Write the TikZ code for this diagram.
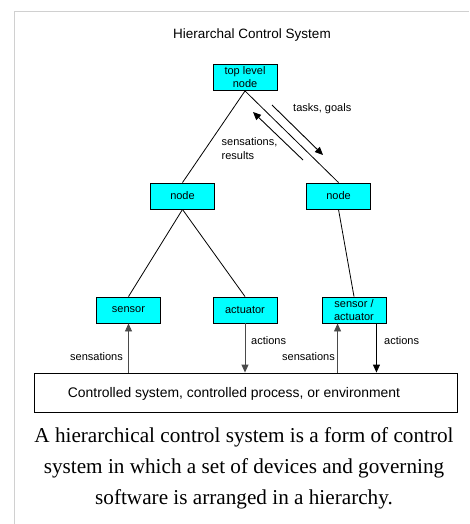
\documentclass[tikz,border=0pt]{standalone}
\usepackage{fontspec}
\setmainfont{Liberation Serif}
\setsansfont{Liberation Sans}
\usetikzlibrary{arrows.meta}
\definecolor{boxcyan}{HTML}{00FFFF}
\definecolor{framegray}{HTML}{D0D0D0}
\definecolor{linegray}{HTML}{4A4A4A}
\begin{document}
\begin{tikzpicture}[x=1pt,y=-1pt,
  unit/.style={draw=black,line width=0.9pt,fill=boxcyan,minimum width=64pt,minimum height=26pt,
    inner sep=0pt,align=center,font=\sffamily\fontsize{11}{13}\selectfont},
  lbl/.style={font=\sffamily\fontsize{11}{14}\selectfont,inner sep=0pt},
  link/.style={draw=black,line width=0.8pt},
  flow/.style={line width=0.9pt,-{Triangle[length=8pt,width=7pt]}},
]
\useasboundingbox (0,0) rectangle (469,524);
% page frame
\draw[framegray,line width=1.4pt] (14.5,524) -- (14.5,11.5) -- (469,11.5);

% title
\node[font=\sffamily\fontsize{13.5}{16}\selectfont,inner sep=0pt] (title) at (252,35) {Hierarchal Control System};

% hierarchy
\node[unit] (top) at (245,77.5) {top level\\node};
\node[unit] (ln) at (182.5,196) {node};
\node[unit] (rn) at (338.5,196) {node};
\node[unit] (sen) at (128.5,310) {sensor};
\node[unit] (act) at (245,310) {actuator};
\node[unit] (sa) at (354,310) {sensor /\\actuator};

\node[draw=black,line width=0.9pt,minimum width=423pt,minimum height=39pt,inner sep=0pt] (env) at (245.5,392.5) {};
\node[font=\sffamily\fontsize{13.9}{16}\selectfont,inner sep=0pt] (envtxt) at (234,393.5) {Controlled system, controlled process, or environment};

\draw[link] (top.south) -- (ln.north);
\draw[link] (top.south) -- (rn.north);
\draw[link] (ln.south) -- (sen.north);
\draw[link] (ln.south) -- (act.north);
\draw[link] (rn.south) -- (sa.north);

% commands down, feedback up
\coordinate (tgA) at (272,105);
\coordinate (tgB) at (323,155);
\coordinate (srA) at (303,160);
\coordinate (srB) at (253,112);
\draw[flow] (tgA) -- (tgB);
\draw[flow] (srA) -- (srB);
\node[lbl,anchor=west] (tg) at (293,109) {tasks, goals};
\node[lbl,anchor=north west,align=left] (sr) at (221.5,137) {sensations,\\results};

% interface with the environment
\draw[flow,draw=linegray] (sen.south |- env.north) -- (sen.south);
\draw[flow,draw=linegray] (act.south) -- (act.south |- env.north);
\coordinate (saUp) at ([xshift=16pt]sa.south west);
\coordinate (saDn) at ([xshift=-10pt]sa.south east);
\draw[flow,draw=linegray] (saUp |- env.north) -- (saUp);
\draw[flow] (saDn) -- (saDn |- env.north);

\node[lbl,anchor=east] (s1) at (123,357) {sensations};
\node[lbl,anchor=west] (a1) at (251,341) {actions};
\node[lbl,anchor=east] (s2) at (335,357) {sensations};
\node[lbl,anchor=west] (a2) at (384,341) {actions};

% caption
\node[font=\fontsize{21.2}{31}\selectfont,align=center,inner sep=0pt] (cap) at (244,468) {A hierarchical control system is a form of control\\system in which a set of devices and governing\\software is arranged in a hierarchy.};
\end{tikzpicture}
\end{document}
